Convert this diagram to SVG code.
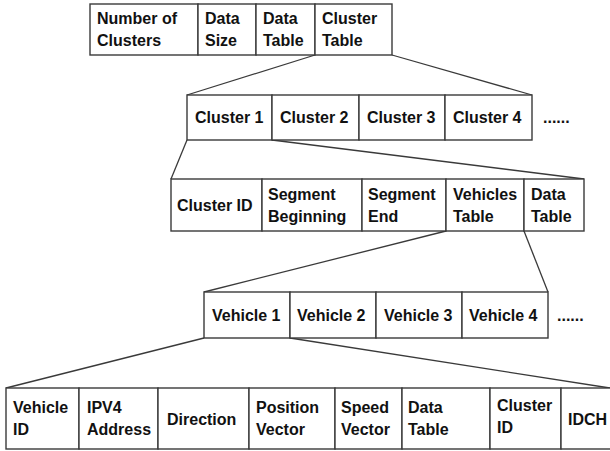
<svg xmlns="http://www.w3.org/2000/svg" width="610" height="451" viewBox="0 0 610 451">
  <style>
    .cell { fill: #ffffff; stroke: #3a3a3a; stroke-width: 1.4; }
    .link { fill: none; stroke: #3a3a3a; stroke-width: 1.3; }
    .t { font-family: "Liberation Sans", Arial, sans-serif; font-weight: bold; font-size: 16px; fill: #111111; }
  </style>
  <rect width="610" height="451" fill="#ffffff"/>

  <!-- connectors between record levels -->
  <g id="connectors">
    <line class="link" x1="315" y1="55" x2="187" y2="95"/>
    <line class="link" x1="392" y1="55" x2="532" y2="95"/>
    <line class="link" x1="187" y1="140" x2="171" y2="179"/>
    <line class="link" x1="272" y1="140" x2="584" y2="179"/>
    <line class="link" x1="446" y1="231" x2="204" y2="292"/>
    <line class="link" x1="524" y1="231" x2="548" y2="292"/>
    <line class="link" x1="204" y1="338" x2="6" y2="388"/>
    <line class="link" x1="290" y1="338" x2="610" y2="388"/>
  </g>

  <!-- top-level record -->
  <g id="root-record">
    <rect class="cell" x="90" y="4" width="108" height="51"/>
    <rect class="cell" x="198" y="4" width="58" height="51"/>
    <rect class="cell" x="256" y="4" width="59" height="51"/>
    <rect class="cell" x="315" y="4" width="77" height="51"/>
    <text class="t" x="97" y="24">Number of</text>
    <text class="t" x="97" y="46">Clusters</text>
    <text class="t" x="205" y="24">Data</text>
    <text class="t" x="205" y="46">Size</text>
    <text class="t" x="263" y="24">Data</text>
    <text class="t" x="263" y="46">Table</text>
    <text class="t" x="322" y="24">Cluster</text>
    <text class="t" x="322" y="46">Table</text>
  </g>

  <!-- cluster table -->
  <g id="cluster-table">
    <rect class="cell" x="187" y="95" width="85" height="45"/>
    <rect class="cell" x="272" y="95" width="87" height="45"/>
    <rect class="cell" x="359" y="95" width="86" height="45"/>
    <rect class="cell" x="445" y="95" width="87" height="45"/>
    <text class="t" x="195" y="123">Cluster 1</text>
    <text class="t" x="280" y="123">Cluster 2</text>
    <text class="t" x="367" y="123">Cluster 3</text>
    <text class="t" x="453" y="123">Cluster 4</text>
    <text class="t" x="543" y="123">......</text>
  </g>

  <!-- cluster record -->
  <g id="cluster-record">
    <rect class="cell" x="171" y="179" width="91" height="52"/>
    <rect class="cell" x="262" y="179" width="100" height="52"/>
    <rect class="cell" x="362" y="179" width="84" height="52"/>
    <rect class="cell" x="446" y="179" width="78" height="52"/>
    <rect class="cell" x="524" y="179" width="60" height="52"/>
    <text class="t" x="177" y="211">Cluster ID</text>
    <text class="t" x="268" y="200">Segment</text>
    <text class="t" x="268" y="222">Beginning</text>
    <text class="t" x="368" y="200">Segment</text>
    <text class="t" x="368" y="222">End</text>
    <text class="t" x="453" y="200">Vehicles</text>
    <text class="t" x="453" y="222">Table</text>
    <text class="t" x="531" y="200">Data</text>
    <text class="t" x="531" y="222">Table</text>
  </g>

  <!-- vehicles table -->
  <g id="vehicles-table">
    <rect class="cell" x="204" y="292" width="86" height="46"/>
    <rect class="cell" x="290" y="292" width="86" height="46"/>
    <rect class="cell" x="376" y="292" width="86" height="46"/>
    <rect class="cell" x="462" y="292" width="86" height="46"/>
    <text class="t" x="212" y="321">Vehicle 1</text>
    <text class="t" x="297" y="321">Vehicle 2</text>
    <text class="t" x="384" y="321">Vehicle 3</text>
    <text class="t" x="469" y="321">Vehicle 4</text>
    <text class="t" x="557" y="321">......</text>
  </g>

  <!-- vehicle record -->
  <g id="vehicle-record">
    <rect class="cell" x="6" y="388" width="73" height="61"/>
    <rect class="cell" x="79" y="388" width="79" height="61"/>
    <rect class="cell" x="158" y="388" width="91" height="61"/>
    <rect class="cell" x="249" y="388" width="86" height="61"/>
    <rect class="cell" x="335" y="388" width="67" height="61"/>
    <rect class="cell" x="402" y="388" width="88" height="61"/>
    <rect class="cell" x="490" y="388" width="71" height="61"/>
    <rect class="cell" x="561" y="388" width="60" height="61"/>
    <text class="t" x="13" y="413">Vehicle</text>
    <text class="t" x="13" y="435">ID</text>
    <text class="t" x="87" y="413">IPV4</text>
    <text class="t" x="87" y="435">Address</text>
    <text class="t" x="167" y="425">Direction</text>
    <text class="t" x="256" y="413">Position</text>
    <text class="t" x="256" y="435">Vector</text>
    <text class="t" x="341" y="413">Speed</text>
    <text class="t" x="341" y="435">Vector</text>
    <text class="t" x="408" y="413">Data</text>
    <text class="t" x="408" y="435">Table</text>
    <text class="t" x="497" y="411">Cluster</text>
    <text class="t" x="497" y="433">ID</text>
    <text class="t" x="568" y="425">IDCH</text>
  </g>
</svg>
